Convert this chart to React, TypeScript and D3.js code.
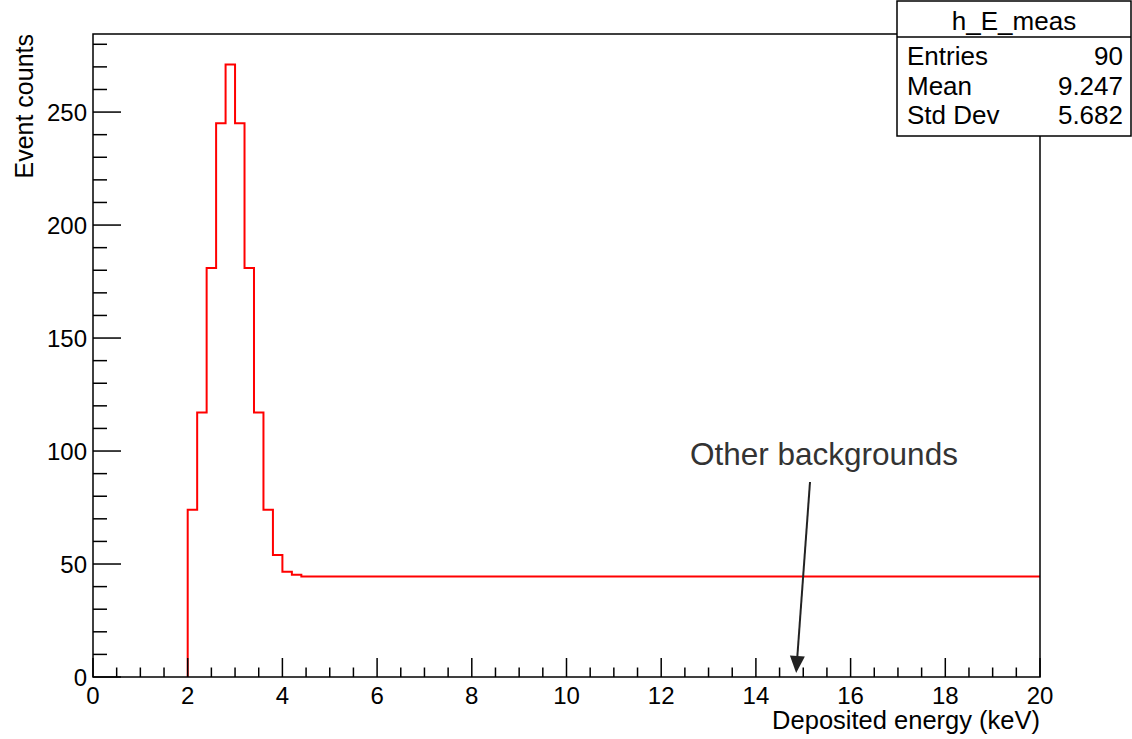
import React from "react";
import * as d3 from "d3";

// Histogram bin edges (keV) and counts per bin (flat background beyond 4.4 keV)
const binEdges = [2.0, 2.2, 2.4, 2.6, 2.8, 3.0, 3.2, 3.4, 3.6, 3.8, 4.0, 4.2, 4.4, 20];
const binCounts = [74, 117, 181, 245, 271, 245, 181, 117, 74, 54, 46.6, 45.3, 44.5];

const xTicks = [0, 2, 4, 6, 8, 10, 12, 14, 16, 18, 20];
const yTicks = [0, 50, 100, 150, 200, 250];

const statsTitle = "h_E_meas";
const statsLabels = ["Entries", "Mean", "Std Dev"];
const statsValues = ["90", "9.247", "5.682"];

const annotationText = "Other backgrounds";
const annotationX = 14.85;

const W = 1132;
const H = 739;
const FONT = "'Liberation Sans', Arial, Helvetica, sans-serif";

export default function App() {
  const left = 93, right = 1040, top = 34, bottom = 677;
  const yMax = d3.max(binCounts)! * 1.05;
  const x = d3.scaleLinear().domain([0, 20]).range([left, right]);
  const y = d3.scaleLinear().domain([0, yMax]).range([bottom, top]);

  const pts: [number, number][] = [[binEdges[0], 0]];
  binCounts.forEach((c, i) => {
    pts.push([binEdges[i], c]);
    pts.push([binEdges[i + 1], c]);
  });
  const line = d3
    .line<[number, number]>()
    .x((d) => x(d[0]))
    .y((d) => y(d[1]));

  const xMinor = d3.range(0, 20.001, 0.5);
  const yMinor = d3.range(0, yMax, 10);

  // annotation arrow
  const ax1 = 810, ay1 = 482;
  const ax2 = x(annotationX), ay2 = 673;
  const ang = Math.atan2(ay2 - ay1, ax2 - ax1);
  const hl = 17, hw = 7.5;
  const bx = ax2 - hl * Math.cos(ang), by = ay2 - hl * Math.sin(ang);
  const head = [
    [ax2, ay2],
    [bx + hw * Math.sin(ang), by - hw * Math.cos(ang)],
    [bx - hw * Math.sin(ang), by + hw * Math.cos(ang)],
  ];

  const boxL = 897, boxR = 1131, boxT = 1, boxB = 136, boxSep = 37;

  return (
    <svg
      width={W}
      height={H}
      style={{ position: "absolute", left: 0, top: 0, background: "#fff" }}
      fontFamily={FONT}
    >
      <rect x={0} y={0} width={W} height={H} fill="#fff" />
      {/* histogram */}
      <path d={line(pts)!} fill="none" stroke="#ff0000" strokeWidth={2} />

      {/* frame */}
      <rect x={left} y={top} width={right - left} height={bottom - top} fill="none" stroke="#000" strokeWidth={1.5} />

      {/* x ticks */}
      {xMinor.map((v, i) => {
        const major = Math.abs(v / 2 - Math.round(v / 2)) < 1e-6;
        return (
          <line key={"xt" + i} x1={x(v)} x2={x(v)} y1={bottom} y2={bottom - (major ? 19 : 9.5)} stroke="#000" strokeWidth={1.5} />
        );
      })}
      {xTicks.map((v) => (
        <text key={"xl" + v} x={x(v)} y={704} fontSize={24} textAnchor="middle" fill="#000">
          {v}
        </text>
      ))}

      {/* y ticks */}
      {yMinor.map((v, i) => {
        const major = v % 50 === 0;
        return (
          <line key={"yt" + i} x1={left} x2={left + (major ? 28 : 14)} y1={y(v)} y2={y(v)} stroke="#000" strokeWidth={1.5} />
        );
      })}
      {yTicks.map((v) => (
        <text key={"yl" + v} x={87} y={y(v) + 8.5} fontSize={24} textAnchor="end" fill="#000">
          {v}
        </text>
      ))}

      {/* axis titles */}
      <text x={right} y={729} fontSize={25.5} textAnchor="end" fill="#000">
        Deposited energy (keV)
      </text>
      <text transform={`translate(33,${top}) rotate(-90)`} fontSize={25} textAnchor="end" fill="#000">
        Event counts
      </text>

      {/* annotation */}
      <text x={690} y={465} fontSize={31.5} fill="#333">
        {annotationText}
      </text>
      <line x1={ax1} y1={ay1} x2={bx} y2={by} stroke="#222" strokeWidth={2} />
      <polygon points={head.map((p) => p.join(",")).join(" ")} fill="#222" />

      {/* stats box */}
      <rect x={boxL} y={boxT} width={boxR - boxL} height={boxB - boxT} fill="#fff" stroke="#000" strokeWidth={1.5} />
      <line x1={boxL} x2={boxR} y1={boxSep} y2={boxSep} stroke="#000" strokeWidth={1.5} />
      <text x={(boxL + boxR) / 2} y={30} fontSize={26} textAnchor="middle" fill="#000">
        {statsTitle}
      </text>
      {statsLabels.map((s, i) => (
        <g key={s}>
          <text x={907} y={65 + i * 29.7} fontSize={26} fill="#000">
            {s}
          </text>
          <text x={1123} y={65 + i * 29.7} fontSize={26} textAnchor="end" fill="#000">
            {statsValues[i]}
          </text>
        </g>
      ))}
    </svg>
  );
}
